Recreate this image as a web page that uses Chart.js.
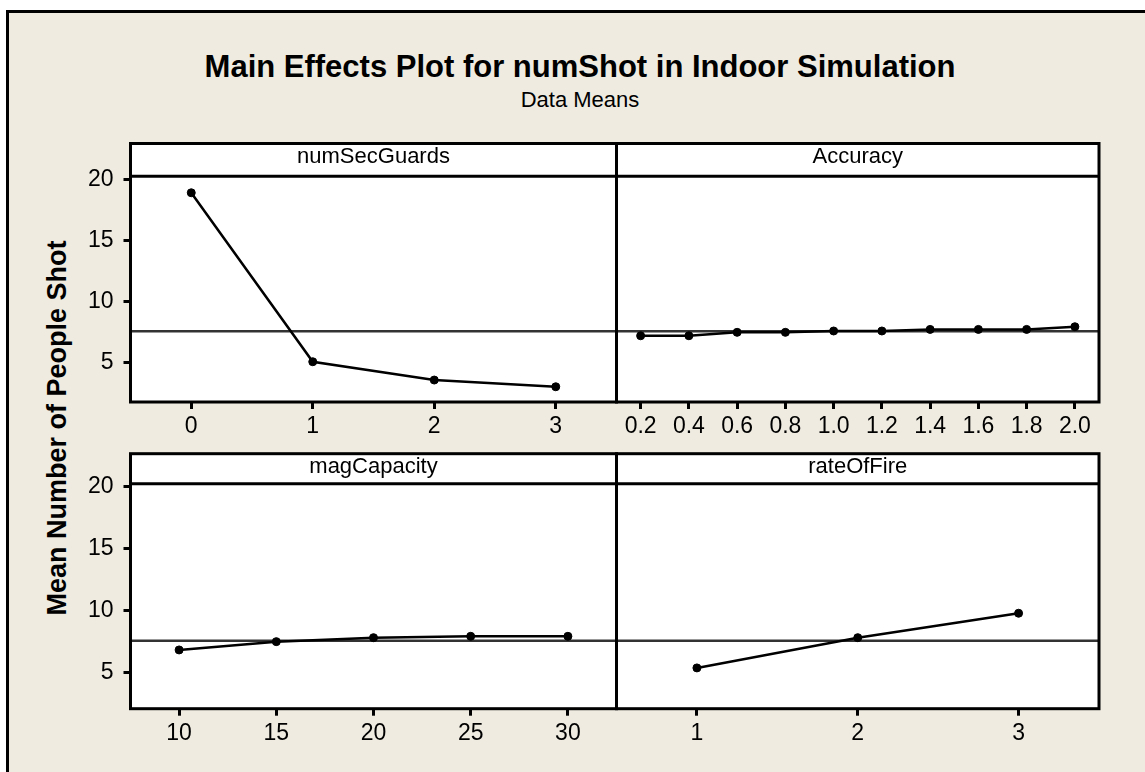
<!DOCTYPE html>
<html>
<head>
<meta charset="utf-8">
<script src="https://cdn.jsdelivr.net/npm/chart.js@4.4.1/dist/chart.umd.min.js"></script>
<style>
  body { margin: 0; background: #fff; }
  #page { position: relative; width: 1145px; height: 772px; overflow: hidden; background: #fff; font-family: "Liberation Sans", Arial, sans-serif; }
  #frame { position: absolute; left: 6px; top: 10px; width: 1200px; height: 800px; background: #efebe1; border-left: 3px solid #000; border-top: 3px solid #000; }
  canvas { position: absolute; left: 0; top: 0; }
  .title { position: absolute; left: 80px; width: 1000px; text-align: center; color: #000; white-space: nowrap; }
  #mainTitle { top: 51px; font-size: 31px; line-height: 31px; font-weight: bold; }
  #subTitle { top: 89px; font-size: 22px; line-height: 22px; }
  #yLabel { position: absolute; left: 57px; top: 428px; font-size: 27px; line-height: 27px; font-weight: bold; white-space: nowrap;
            transform: translate(-50%, -50%) rotate(-90deg); color: #000; }
</style>
</head>
<body>
<div id="page">
  <div id="frame"></div>
  <div id="mainTitle" class="title">Main Effects Plot for numShot in Indoor Simulation</div>
  <div id="subTitle" class="title">Data Means</div>
  <div id="yLabel">Mean Number of People Shot</div>
  <canvas id="c1" width="1145" height="772"></canvas>
  <canvas id="c2" width="1145" height="772"></canvas>
  <canvas id="c3" width="1145" height="772"></canvas>
  <canvas id="c4" width="1145" height="772"></canvas>
</div>
<script>
// factor levels and the mean of numShot at each level
const numSecGuardsLevels = ['0', '1', '2', '3'];
const numSecGuardsMeans = [18.9, 5.05, 3.55, 3.0];

const accuracyLevels = ['0.2', '0.4', '0.6', '0.8', '1.0', '1.2', '1.4', '1.6', '1.8', '2.0'];
const accuracyMeans = [7.18, 7.18, 7.46, 7.46, 7.57, 7.57, 7.70, 7.70, 7.70, 7.92];

const magCapacityLevels = ['10', '15', '20', '25', '30'];
const magCapacityMeans = [6.8, 7.47, 7.79, 7.9, 7.9];

const rateOfFireLevels = ['1', '2', '3'];
const rateOfFireMeans = [5.35, 7.79, 9.76];

const grandMean = 7.55;
const yTickValues = [5, 10, 15, 20];

// panel geometry (pixels)
const colLeft = [130.5, 616.5];
const colRight = [616.5, 1099];
const rowHeaderTop = [143.5, 453.7];
const rowPlotTop = [176.3, 483.7];
const rowPlotBottom = [402, 708.7];
const rowYRange = [[1.75, 20.25], [2.06, 20.21]];

const Y_AXIS_W = 60;
const X_AXIS_H = 50;
const W = 1145, H = 772;
const tickFont = { family: '"Liberation Sans", Arial, sans-serif', size: 23 };

// white panel, header strip, frame, grand mean line
const panelPlugin = {
    id: 'panelFrame',
    beforeDraw(chart, args, opts) {
        const { ctx, chartArea: a } = chart;
        ctx.save();
        ctx.fillStyle = '#fff';
        ctx.fillRect(a.left, opts.headerTop, a.width, a.bottom - opts.headerTop);
        ctx.restore();
    },
    beforeDatasetsDraw(chart) {
        const { ctx, chartArea: a } = chart;
        const y = chart.scales.y.getPixelForValue(grandMean);
        ctx.save();
        ctx.strokeStyle = '#333';
        ctx.lineWidth = 2.5;
        ctx.beginPath();
        ctx.moveTo(a.left, y);
        ctx.lineTo(a.right, y);
        ctx.stroke();
        ctx.restore();
    },
    afterDraw(chart, args, opts) {
        const { ctx, chartArea: a } = chart;
        ctx.save();
        ctx.strokeStyle = '#000';
        ctx.lineWidth = 3;
        ctx.strokeRect(a.left, opts.headerTop, a.width, a.bottom - opts.headerTop);
        ctx.beginPath();
        ctx.moveTo(a.left, a.top);
        ctx.lineTo(a.right, a.top);
        ctx.stroke();
        ctx.fillStyle = '#000';
        ctx.font = '22px "Liberation Sans", Arial, sans-serif';
        ctx.textAlign = 'center';
        ctx.textBaseline = 'alphabetic';
        ctx.fillText(opts.title, (a.left + a.right) / 2, opts.headerTop + 19.5);
        ctx.restore();
    }
};

function makePanel(canvasId, title, levels, means, col, row) {
    const showY = col === 0;
    const left = colLeft[col], right = colRight[col];
    const top = rowPlotTop[row], bottom = rowPlotBottom[row];
    return new Chart(document.getElementById(canvasId), {
        type: 'line',
        data: {
            labels: levels,
            datasets: [{
                data: means,
                borderColor: '#000',
                borderWidth: 2.5,
                backgroundColor: '#000',
                pointBackgroundColor: '#000',
                pointBorderColor: '#000',
                pointRadius: 4,
                pointBorderWidth: 1,
                tension: 0,
                fill: false
            }]
        },
        options: {
            responsive: false,
            devicePixelRatio: 1,
            animation: false,
            events: [],
            layout: {
                padding: {
                    left: left - (showY ? Y_AXIS_W : 0),
                    right: W - right,
                    top: top,
                    bottom: H - bottom - X_AXIS_H
                }
            },
            plugins: {
                legend: { display: false },
                tooltip: { enabled: false },
                title: { display: false },
                panelFrame: { title: title, headerTop: rowHeaderTop[row] }
            },
            scales: {
                x: {
                    type: 'category',
                    offset: true,
                    border: { display: false },
                    grid: { display: true, drawOnChartArea: false, drawTicks: true, tickLength: 7, tickWidth: 3, tickColor: '#000', offset: false },
                    ticks: { color: '#000', font: tickFont, padding: 4, maxRotation: 0, autoSkip: false },
                    afterFit(scale) { scale.height = X_AXIS_H; }
                },
                y: {
                    type: 'linear',
                    min: rowYRange[row][0],
                    max: rowYRange[row][1],
                    border: { display: false },
                    grid: { display: showY, drawOnChartArea: false, drawTicks: showY, tickLength: 7, tickWidth: 3, tickColor: '#000' },
                    ticks: { display: showY, color: '#000', font: tickFont, padding: 10 },
                    afterBuildTicks(scale) { scale.ticks = yTickValues.map(v => ({ value: v })); },
                    afterFit(scale) { scale.width = showY ? Y_AXIS_W : 0; }
                }
            }
        },
        plugins: [panelPlugin]
    });
}

makePanel('c1', 'numSecGuards', numSecGuardsLevels, numSecGuardsMeans, 0, 0);
makePanel('c2', 'Accuracy', accuracyLevels, accuracyMeans, 1, 0);
makePanel('c3', 'magCapacity', magCapacityLevels, magCapacityMeans, 0, 1);
makePanel('c4', 'rateOfFire', rateOfFireLevels, rateOfFireMeans, 1, 1);
</script>
</body>
</html>
